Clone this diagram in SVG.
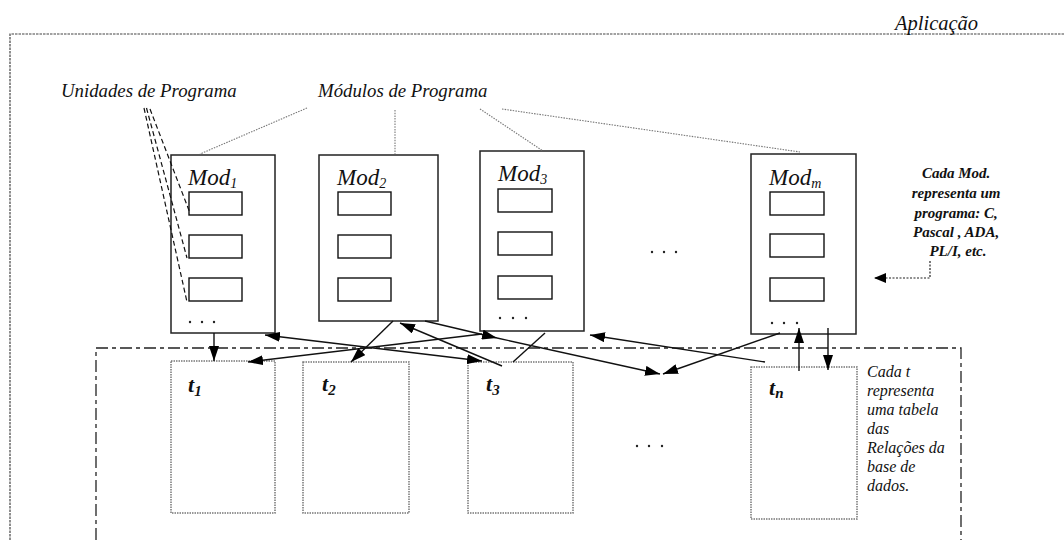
<svg xmlns="http://www.w3.org/2000/svg" width="1064" height="540" viewBox="0 0 1064 540">
<defs>
<style>
.bg{fill:#fff}
.frame{fill:none;stroke:#444;stroke-width:1.2;stroke-dasharray:2.5,1}
.region{fill:none;stroke:#222;stroke-width:1.3;stroke-dasharray:12,4,4,4}
.mod{fill:#fff;stroke:#222;stroke-width:1.5}
.unit{fill:#fff;stroke:#111;stroke-width:1.4}
.tab{fill:none;stroke:#777;stroke-width:1.5;stroke-dasharray:1.5,1}
.lbl{font-family:"Liberation Serif",serif;font-style:italic;fill:#111}
.bi{font-family:"Liberation Serif",serif;font-style:italic;font-weight:bold;fill:#111}
.conn{fill:none;stroke:#111;stroke-width:1.4}
.dot{fill:none;stroke:#777;stroke-width:1.1;stroke-dasharray:1.5,1.2}
.dash{fill:none;stroke:#111;stroke-width:1.2;stroke-dasharray:5,3}
.note{fill:none;stroke:#222;stroke-width:1.2;stroke-dasharray:2,1.5}
.pt{fill:#222}
</style>
<marker id="ah" markerUnits="userSpaceOnUse" viewBox="0 0 15 10" markerWidth="15" markerHeight="10" refX="15" refY="5" orient="auto-start-reverse">
<path d="M0,0 L15,5 L0,10 z" fill="#000"/>
</marker>
<marker id="ahs" markerUnits="userSpaceOnUse" viewBox="0 0 12 10" markerWidth="12" markerHeight="10" refX="12" refY="5" orient="auto">
<path d="M0,0 L12,5 L0,10 z" fill="#000"/>
</marker>
</defs>
<rect class="bg" x="0" y="0" width="1064" height="540"/>

<g id="frame">
<path class="frame" d="M10,540 V34 H1064"/>
<text class="lbl" x="895" y="30" font-size="20.5">Aplicação</text>
</g>

<g id="region">
<path class="region" d="M96,540 V348 H961 V540"/>
</g>

<g id="labels">
<text class="lbl" x="61" y="97" font-size="18.8">Unidades de Programa</text>
<text class="lbl" x="318" y="97" font-size="18.8">Módulos de Programa</text>
</g>

<g id="mod1">
<rect class="mod" x="171" y="155" width="104" height="178"/>
<text class="lbl" x="188" y="185" font-size="23">Mod<tspan font-size="14" dy="3">1</tspan></text>
<rect class="unit" x="189" y="192" width="53" height="23"/>
<rect class="unit" x="189" y="235" width="53" height="23"/>
<rect class="unit" x="189" y="278" width="53" height="23"/>
<circle class="pt" cx="190" cy="322" r="1.2"/><circle class="pt" cx="202" cy="322" r="1.2"/><circle class="pt" cx="214" cy="322" r="1.2"/>
</g>

<g id="mod2">
<rect class="mod" x="319" y="155" width="119" height="166"/>
<text class="lbl" x="337" y="185" font-size="23">Mod<tspan font-size="14" dy="3">2</tspan></text>
<rect class="unit" x="338" y="192" width="53" height="23"/>
<rect class="unit" x="338" y="235" width="53" height="23"/>
<rect class="unit" x="338" y="278" width="53" height="23"/>
</g>

<g id="mod3">
<rect class="mod" x="480" y="151" width="104" height="180"/>
<text class="lbl" x="498" y="181" font-size="23">Mod<tspan font-size="14" dy="3">3</tspan></text>
<rect class="unit" x="498" y="189" width="54" height="23"/>
<rect class="unit" x="498" y="232" width="54" height="23"/>
<rect class="unit" x="498" y="276" width="54" height="23"/>
<circle class="pt" cx="500" cy="318" r="1.2"/><circle class="pt" cx="513" cy="318" r="1.2"/><circle class="pt" cx="526" cy="318" r="1.2"/>
</g>

<g id="ellipsis-mods">
<circle class="pt" cx="652" cy="252" r="1.2"/><circle class="pt" cx="664" cy="252" r="1.2"/><circle class="pt" cx="676" cy="252" r="1.2"/>
</g>

<g id="modm">
<rect class="mod" x="751" y="154" width="105" height="180"/>
<text class="lbl" x="769" y="185" font-size="23">Mod<tspan font-size="14" dy="3">m</tspan></text>
<rect class="unit" x="770" y="192" width="54" height="23"/>
<rect class="unit" x="770" y="234" width="54" height="23"/>
<rect class="unit" x="770" y="278" width="54" height="23"/>
<circle class="pt" cx="772" cy="323" r="1.2"/><circle class="pt" cx="784" cy="323" r="1.2"/><circle class="pt" cx="797" cy="323" r="1.2"/>
</g>

<g id="pointers">
<path class="dash" d="M144,108 L187,302"/>
<path class="dash" d="M146.5,108 L187,258"/>
<path class="dash" d="M150,109 L190,213"/>
<path class="dot" d="M307,108 L200,154"/>
<path class="dot" d="M395,110 L395,154"/>
<path class="dot" d="M480,109 L543,151"/>
<path class="dot" d="M502,109 L800,152"/>
</g>

<g id="note-mod">
<text class="bi" font-size="15" text-anchor="middle">
<tspan x="958" y="178">Cada Mod.</tspan>
<tspan x="958" y="198">representa um</tspan>
<tspan x="958" y="218">programa: C,</tspan>
<tspan x="958" y="237">Pascal , ADA,</tspan>
<tspan x="958" y="256">PL/I, etc.</tspan>
</text>
<path class="note" d="M930,261 V278 H874" marker-end="url(#ahs)"/>
</g>

<g id="t1">
<rect class="tab" x="171" y="361" width="104" height="152"/>
<text class="bi" x="188" y="392" font-size="22">t<tspan font-size="15" dy="4">1</tspan></text>
</g>
<g id="t2">
<rect class="tab" x="303" y="362" width="106" height="151"/>
<text class="bi" x="322" y="391" font-size="22">t<tspan font-size="15" dy="4">2</tspan></text>
</g>
<g id="t3">
<rect class="tab" x="468" y="362" width="105" height="151"/>
<text class="bi" x="486" y="391" font-size="22">t<tspan font-size="15" dy="4">3</tspan></text>
</g>
<g id="ellipsis-tabs">
<circle class="pt" cx="637" cy="446" r="1.2"/><circle class="pt" cx="649" cy="446" r="1.2"/><circle class="pt" cx="662" cy="446" r="1.2"/>
</g>
<g id="tn">
<rect class="tab" x="751" y="367" width="106" height="152"/>
<text class="bi" x="769" y="395" font-size="22">t<tspan font-size="15" dy="3">n</tspan></text>
</g>

<g id="note-t">
<text class="lbl" font-size="16">
<tspan x="867" y="377">Cada t</tspan>
<tspan x="867" y="396">representa</tspan>
<tspan x="867" y="415">uma tabela</tspan>
<tspan x="867" y="434">das</tspan>
<tspan x="867" y="453">Relações da</tspan>
<tspan x="867" y="472">base de</tspan>
<tspan x="867" y="491">dados.</tspan>
</text>
</g>

<g id="connectors">
<path class="conn" d="M214,333 L214,361" marker-end="url(#ah)"/>
<path class="conn" d="M265,335 L482,361" marker-start="url(#ah)" marker-end="url(#ah)"/>
<path class="conn" d="M482,334 L248,362" marker-end="url(#ah)"/>
<path class="conn" d="M393,321 L351,362" marker-end="url(#ah)"/>
<path class="conn" d="M502,366 L400,323" marker-end="url(#ah)"/>
<path class="conn" d="M425,321 L497,338" marker-end="url(#ah)"/>
<path class="conn" d="M497,338 L660,374" marker-end="url(#ah)"/>
<path class="conn" d="M545,333 L513,362"/>
<path class="conn" d="M765,362 L590,335" marker-end="url(#ah)"/>
<path class="conn" d="M780,333 L663,374" marker-end="url(#ah)"/>
<path class="conn" d="M799,371 L799,328" marker-end="url(#ah)"/>
<path class="conn" d="M828,328 L828,370" marker-end="url(#ah)"/>
</g>
</svg>
